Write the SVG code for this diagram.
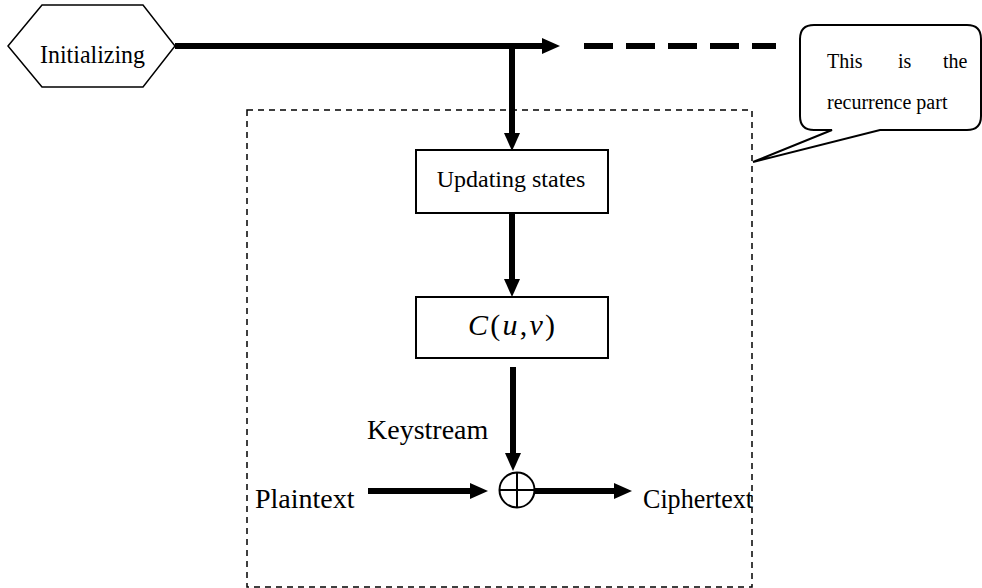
<svg xmlns="http://www.w3.org/2000/svg" width="982" height="588" viewBox="0 0 982 588">
<style>
text{font-family:"Liberation Serif","Times New Roman",serif;fill:#000}
.box{fill:#fff;stroke:#000;stroke-width:2}
.thick{stroke:#000;stroke-width:6;fill:none}
.it{font-style:italic}
</style>
<defs>
<marker id="ah" viewBox="0 -8 18 16" refX="0" refY="0" markerWidth="18" markerHeight="16" markerUnits="userSpaceOnUse" orient="auto">
<path d="M0,-8 L18,0 L0,8 Z" fill="#000"/>
</marker>
</defs>
<rect width="982" height="588" fill="#fff"/>
<g id="recurrence-frame">
<rect x="247" y="110" width="505" height="477" fill="none" stroke="#000" stroke-width="1.5" stroke-dasharray="6 5"/>
</g>
<g id="connectors">
<line class="thick" x1="175" y1="46" x2="542" y2="46" marker-end="url(#ah)"/>
<line class="thick" x1="584" y1="46" x2="776" y2="46" stroke-dasharray="29 13"/>
<line class="thick" x1="512" y1="46" x2="512" y2="133" marker-end="url(#ah)"/>
<line class="thick" x1="512" y1="213" x2="512" y2="279" marker-end="url(#ah)"/>
<line class="thick" x1="513" y1="367" x2="513" y2="453" marker-end="url(#ah)"/>
<line class="thick" x1="368" y1="491" x2="470" y2="491" marker-end="url(#ah)"/>
<line class="thick" x1="535" y1="491" x2="614" y2="491" marker-end="url(#ah)"/>
</g>
<g id="initializing">
<polygon points="8,46 42,5 143,5 175,46 143,87 42,87" fill="#fff" stroke="#000" stroke-width="1.5"/>
<text x="40" y="63" font-size="26" textLength="105" lengthAdjust="spacingAndGlyphs">Initializing</text>
</g>
<g id="updating-states">
<rect class="box" x="416" y="150" width="192" height="63"/>
<text x="511" y="187" font-size="24" text-anchor="middle">Updating states</text>
</g>
<g id="cuv">
<rect class="box" x="416" y="297" width="192" height="61"/>
<text x="468" y="335" font-size="30" textLength="87" lengthAdjust="spacing"><tspan class="it">C</tspan>(<tspan class="it">u</tspan>,<tspan class="it">v</tspan>)</text>
</g>
<g id="xor">
<circle cx="517" cy="490" r="17.5" fill="#fff" stroke="#000" stroke-width="2"/>
<line x1="499.5" y1="490" x2="534.5" y2="490" stroke="#000" stroke-width="2"/>
<line x1="517" y1="472.5" x2="517" y2="507.5" stroke="#000" stroke-width="2"/>
</g>
<g id="keystream"><text x="367" y="439" font-size="28">Keystream</text></g>
<g id="plaintext"><text x="255" y="508" font-size="28">Plaintext</text></g>
<g id="ciphertext"><text x="643" y="508" font-size="28" textLength="110" lengthAdjust="spacingAndGlyphs">Ciphertext</text></g>
<g id="callout">
<path d="M814,25 H967 Q981,25 981,39 V116 Q981,130 967,130 H880 L753,162 L832,130 H814 Q800,130 800,116 V39 Q800,25 814,25 Z" fill="#fff" stroke="#000" stroke-width="2"/>
<text y="68" font-size="20"><tspan x="827">This</tspan><tspan x="898">is</tspan><tspan x="943">the</tspan></text>
<text x="827" y="109" font-size="20">recurrence part</text>
</g>
</svg>
